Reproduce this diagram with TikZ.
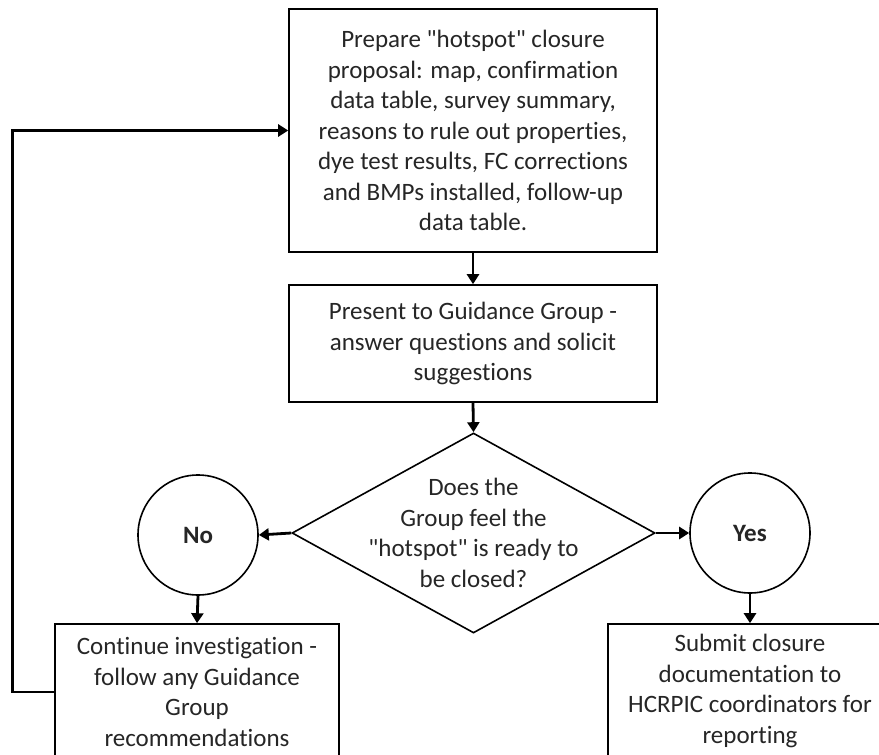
\documentclass[tikz,border=0pt]{standalone}
\usepackage{fontspec}
\setmainfont{Carlito}[Ligatures={NoCommon,TeXOff}]
\usetikzlibrary{shapes.geometric,arrows.meta}
\begin{document}
\begin{tikzpicture}[x=1pt,y=-1pt,
  every node/.style={font=\fontsize{25}{30.5}\selectfont, text=black!85, align=center},
  box/.style={draw, line width=1.6pt, rectangle, inner sep=0pt},
  circ/.style={draw, line width=1.6pt, circle, minimum size=120pt, inner sep=0pt, font=\fontsize{25}{30.5}\selectfont\bfseries},
  dia/.style={draw, line width=1.6pt, diamond, minimum width=363pt, minimum height=200pt, inner sep=0pt},
  arr/.style={line width=2.8pt, -{Triangle[width=12pt,length=10pt]}}
]
\clip (0,0) rectangle (879,755);
\fill[white] (0,0) rectangle (879,755);
\node[box, minimum width=368pt, minimum height=243pt] (prep) at (473,130.5)
  {Prepare "hotspot" closure\\proposal: map, confirmation\\data table, survey summary,\\reasons to rule out properties,\\dye test results, FC corrections\\and BMPs installed, follow-up\\data table.};
\node[box, minimum width=368pt, minimum height=117pt] (pres) at (473,343.5)
  {Present to Guidance Group -\\answer questions and solicit\\suggestions};
\node[dia, label={[name=q]center:{Does the\\Group feel the\\"hotspot" is ready to\\be closed?}}] (dec) at (473.5,533) {};
\node[circ] (no) at (198,535) {No};
\node[circ] (yes) at (750,533) {Yes};
\node[box, minimum width=284pt, minimum height=136pt] (cont) at (197,692)
  {Continue investigation -\\follow any Guidance\\Group\\recommendations};
\node[box, minimum width=284pt, minimum height=134pt] (sub) at (750,691)
  {Submit closure\\documentation to\\HCRPIC coordinators for\\reporting};
\draw[arr] (prep.south) -- (pres.north);
\draw[arr] (pres.south) -- (dec.north);
\draw[arr] (dec.west) -- (no.east);
\draw[arr] (dec.east) -- (yes.west);
\draw[arr] (no.south) -- (cont.north);
\draw[arr] (yes.south) -- (sub.north);
\draw[arr] (cont.west) -- ++(-42,0) |- (prep.west);
\end{tikzpicture}
\end{document}
